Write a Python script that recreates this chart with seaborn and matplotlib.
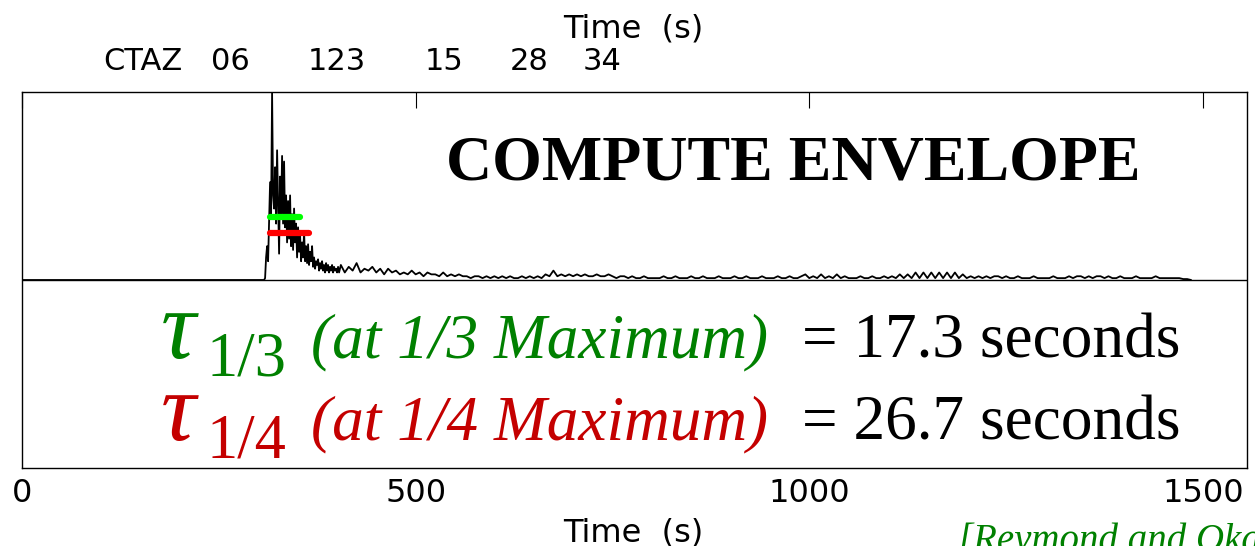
import numpy as np
import pandas as pd
import matplotlib
matplotlib.use("Agg")
import matplotlib.pyplot as plt
import seaborn as sns

# envelope samples, in percent of the maximum
onset_start = 307.5      # s, first sample of the dense part
onset_step = 1.27        # s
onset_amp = [0, 1, 12, 18, 10, 30, 52, 35, 100, 45, 38, 60, 30, 69, 40, 14,
             55, 35, 66, 30, 63, 28, 45, 20, 42, 22, 45, 18, 35, 16, 38, 20,
             30, 12, 28, 15, 24, 10, 20, 12, 26, 10, 18, 9, 19, 8, 15, 10,
             18, 7, 12, 6, 10, 8, 11, 5, 9, 6, 10, 5, 8, 4, 9, 5, 8, 4,
             7, 5, 8, 4, 7, 5, 6, 4, 7, 4]

coda_start = 405.0
coda_step = 5.0
coda_amp = [8, 4, 7, 5, 9, 4, 6, 5, 7, 4,
            6, 3, 6, 4, 5, 3, 4, 3, 5, 3,
            4, 2, 4, 3, 3, 2, 4, 2, 3, 2,
            3, 2, 2, 1, 2, 2, 1, 2, 1, 2,
            1, 2, 1, 2, 1, 1, 2, 1, 2, 1,
            2, 1, 3, 2, 5, 2, 3, 2, 3, 2,
            3, 2, 3, 2, 2, 3, 2, 2, 3, 2,
            1, 2, 2, 1, 2, 1, 1, 2, 1, 1,
            1, 1, 2, 1, 1, 2, 1, 1, 1, 2,
            1, 1, 2, 1, 1, 1, 2, 1, 1, 1,
            2, 1, 1, 2, 1, 1, 1, 2, 1, 1,
            1, 2, 1, 1, 2, 1, 1, 2, 3, 1,
            2, 1, 3, 1, 2, 1, 3, 1, 2, 1,
            1, 1, 2, 1, 1, 2, 1, 1, 2, 1,
            2, 1, 3, 1, 3, 1, 4, 1, 4, 1,
            4, 1, 4, 1, 4, 1, 4, 1, 3, 1,
            2, 1, 2, 1, 2, 1, 2, 2, 1, 2,
            1, 1, 2, 1, 1, 1, 2, 1, 1, 1,
            1, 2, 1, 1, 1, 2, 1, 2, 2, 1,
            2, 1, 2, 2, 1, 2, 1, 1, 2, 1,
            1, 1, 2, 1, 1, 1, 1, 2, 1, 1,
            1, 1, 1, 1, 0.5, 0.5, 0]

# duration bars (start, end in s) at 1/3 and 1/4 of the maximum
tau13_t = [315.5, 353.5]
tau13_level = [1 / 3, 1 / 3]
tau14_t = [315.5, 364.0]
tau14_level = [1 / 4, 1 / 4]

x_ticks = [0, 500, 1000, 1500]
header_tokens = ["CTAZ", "06", "123", "15", "28", "34"]
header_left_px = [103, 211, 308, 425, 510, 583]

t = np.concatenate([[0.0],
                    onset_start + onset_step * np.arange(len(onset_amp)),
                    coda_start + coda_step * np.arange(len(coda_amp))])
a = np.concatenate([[0.0], onset_amp, coda_amp]) / 100.0
trace = pd.DataFrame({"time": t, "amp": a})

sns.set_style("white")
plt.rcParams["font.family"] = ["DejaVu Sans"]
plt.rcParams["text.color"] = "black"
plt.rcParams["xtick.color"] = "black"

W, H = 1255, 546
fig = plt.figure(figsize=(W / 100, H / 100), dpi=100)
ax = fig.add_axes([22 / W, 1 - 468 / H, 1225 / W, 376 / H])


def fx(x):
    return x / W


def fy(y):
    return 1 - y / H


ax.axhline(0, color="black", lw=1.0, zorder=1)
sns.lineplot(data=trace, x="time", y="amp", ax=ax, color="black", lw=1.3,
             sort=False, estimator=None, zorder=2)
sns.lineplot(x=tau13_t, y=tau13_level, ax=ax, color="#00ff00", lw=4.5,
             solid_capstyle="round", zorder=3)
sns.lineplot(x=tau14_t, y=tau14_level, ax=ax, color="#ff0000", lw=4.5,
             solid_capstyle="round", zorder=3)

ax.set_xlim(0, 1556)
ax.set_ylim(-1, 1)
ax.set_xticks(x_ticks)
ax.set_xticklabels([str(v) for v in x_ticks])
ax.set_yticks([])
ax.set_xlabel("")
ax.set_ylabel("")
ax.tick_params(axis="x", direction="in", length=11.5, width=0.8, top=True,
               labeltop=False, labelsize=23, pad=7, colors="black")
for s in ax.spines.values():
    s.set_visible(True)
    s.set_color("black")
    s.set_linewidth(1.0)

# axis titles and station header
fig.text(fx(633), fy(37), "Time  (s)", ha="center", va="baseline", fontsize=23)
fig.text(fx(633), fy(541), "Time  (s)", ha="center", va="baseline", fontsize=23)
for tok, xl in zip(header_tokens, header_left_px):
    fig.text(fx(xl), fy(70), tok, ha="left", va="baseline", fontsize=22)

fig.text(fx(446), fy(180), "COMPUTE ENVELOPE", ha="left", va="baseline",
         fontsize=46, fontweight="bold", family="Liberation Serif",
         color="black")

serif = "Liberation Serif"
green = "#008000"
red = "#c40000"
for dy, sub, col, val in [(0, "1/3", green, "17.3"), (82, "1/4", red, "26.7")]:
    base = 357 + dy
    fig.text(fx(161), fy(base + 1), "\u03c4", ha="left", va="baseline",
             fontsize=70, style="italic", family=serif, color=col)
    fig.text(fx(207), fy(base + 18), sub, ha="left", va="baseline",
             fontsize=45, family=serif, color=col)
    fig.text(fx(311), fy(base), f"(at {sub} Maximum)", ha="left",
             va="baseline", fontsize=45.5, style="italic", family=serif,
             color=col)
    fig.text(fx(802), fy(base), f"= {val} seconds", ha="left", va="baseline",
             fontsize=45.5, family=serif, color="black")

fig.text(fx(958), fy(551), "[Reymond and Okal, 2000]", ha="left", va="baseline",
         fontsize=28, style="italic", family=serif, color=green)

fig.savefig("out.png", dpi=100)
